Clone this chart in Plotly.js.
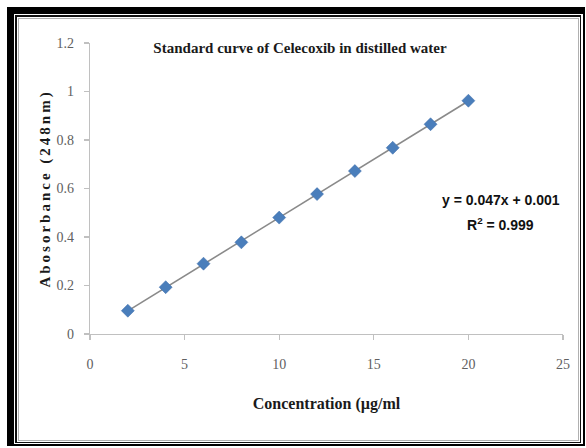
<!DOCTYPE html>
<html>
<head>
<meta charset="utf-8">
<script src="https://cdn.plot.ly/plotly-3.0.1.min.js"></script>
<style>
  html, body { margin: 0; padding: 0; background: #fff; }
  #wrap { position: relative; width: 586px; height: 448px; overflow: hidden; }
  #chart { position: absolute; left: 0; top: 0; width: 586px; height: 448px; }
  .frame { position: absolute; pointer-events: none; box-sizing: border-box; }
  #f1 { left: 7px; top: 7px; width: 578px; height: 439px; border-style: solid; border-color: #000; border-width: 7px 2px 2px 7px; }
  #f2 { left: 15px; top: 15px; width: 566px; height: 428px; border-style: solid; border-color: #111; border-width: 2px 1px 1px 2px; }
  #f3 { left: 18px; top: 18px; width: 561px; height: 423px; border: 1px solid #b0b0b0; }
</style>
</head>
<body>
<div id="wrap">
  <div id="chart"></div>
  <div class="frame" id="f1"></div>
  <div class="frame" id="f2"></div>
  <div class="frame" id="f3"></div>
</div>
<script>
// Data
const concentration = [2, 4, 6, 8, 10, 12, 14, 16, 18, 20];
const absorbance = [0.096, 0.193, 0.290, 0.378, 0.480, 0.577, 0.672, 0.768, 0.865, 0.962];
const xTicks = [0, 5, 10, 15, 20, 25];
const yTicks = [0, 0.2, 0.4, 0.6, 0.8, 1, 1.2];
const yTickLabels = ['0', '0.2', '0.4', '0.6', '0.8', '1', '1.2'];
const equationText = 'y = 0.047x + 0.001';
const r2Text = 'R<sup>2</sup> = 0.999';
const chartTitle = 'Standard curve of Celecoxib in distilled water';
const xTitle = 'Concentration (µg/ml';
const yTitle = 'Abosorbance (248nm)';

// Least-squares trendline from the data
const n = concentration.length;
const mx = concentration.reduce((a, b) => a + b, 0) / n;
const my = absorbance.reduce((a, b) => a + b, 0) / n;
let sxy = 0, sxx = 0;
for (let i = 0; i < n; i++) {
  sxy += (concentration[i] - mx) * (absorbance[i] - my);
  sxx += (concentration[i] - mx) ** 2;
}
const slope = sxy / sxx;
const intercept = my - slope * mx;
const xMin = Math.min(...concentration), xMax = Math.max(...concentration);
const trendX = [xMin, xMax];
const trendY = trendX.map(x => slope * x + intercept);

const serif = 'Liberation Serif, Times New Roman, serif';
const narrow = 'Liberation Sans Narrow, Arial Narrow, sans-serif';

const traces = [
  {
    x: trendX, y: trendY, mode: 'lines', type: 'scatter',
    line: { color: '#8a8a8a', width: 1.6 }, hoverinfo: 'skip'
  },
  {
    x: concentration, y: absorbance, mode: 'markers', type: 'scatter',
    marker: { symbol: 'diamond', size: 10, color: '#4a7ebb', line: { color: '#3a6aa8', width: 0.5 } }
  }
];

const layout = {
  width: 586, height: 448,
  margin: { l: 90, r: 23, t: 43, b: 114 },
  paper_bgcolor: '#fff', plot_bgcolor: '#fff',
  showlegend: false,
  title: {
    text: '<b>' + chartTitle + '</b>',
    font: { family: serif, size: 15, color: '#1a1a1a' },
    x: 0.512, xanchor: 'center', y: 0.893, yanchor: 'middle'
  },
  xaxis: {
    range: [0, 25], tickvals: xTicks, ticktext: xTicks.map(String),
    showgrid: false, zeroline: false,
    showline: true, linecolor: '#c0c0c0', linewidth: 1.2,
    ticks: 'outside', ticklen: 5, tickcolor: '#c0c0c0', tickwidth: 1.2,
    ticklabelstandoff: 12,
    tickfont: { family: serif, size: 14, color: '#606060' },
    title: { text: '<b>' + xTitle + '</b>', font: { family: serif, size: 16, color: '#1a1a1a' }, standoff: 26 }
  },
  yaxis: {
    range: [0, 1.2], tickvals: yTicks, ticktext: yTickLabels,
    showgrid: false, zeroline: false,
    showline: true, linecolor: '#c0c0c0', linewidth: 1.2,
    ticks: 'outside', ticklen: 5, tickcolor: '#c0c0c0', tickwidth: 1.2,
    ticklabelstandoff: 7,
    tickfont: { family: serif, size: 14, color: '#606060' },
    title: { text: '<b>' + yTitle + '</b>', font: { family: serif, size: 15, color: '#1a1a1a' }, standoff: 2 }
  },
  annotations: [
    {
      xref: 'paper', yref: 'paper', x: 0.869, y: 0.462, xanchor: 'center', yanchor: 'middle',
      text: equationText, showarrow: false,
      font: { family: narrow, size: 14, color: '#111', weight: 600 }
    },
    {
      xref: 'paper', yref: 'paper', x: 0.867, y: 0.377, xanchor: 'center', yanchor: 'middle',
      text: r2Text, showarrow: false,
      font: { family: narrow, size: 14, color: '#111', weight: 600 }
    }
  ]
};

Plotly.newPlot('chart', traces, layout, { displayModeBar: false, staticPlot: true }).then(() => {
  const yt = document.querySelector('.ytitle');
  if (yt) yt.style.letterSpacing = '3px';
});
</script>
</body>
</html>
